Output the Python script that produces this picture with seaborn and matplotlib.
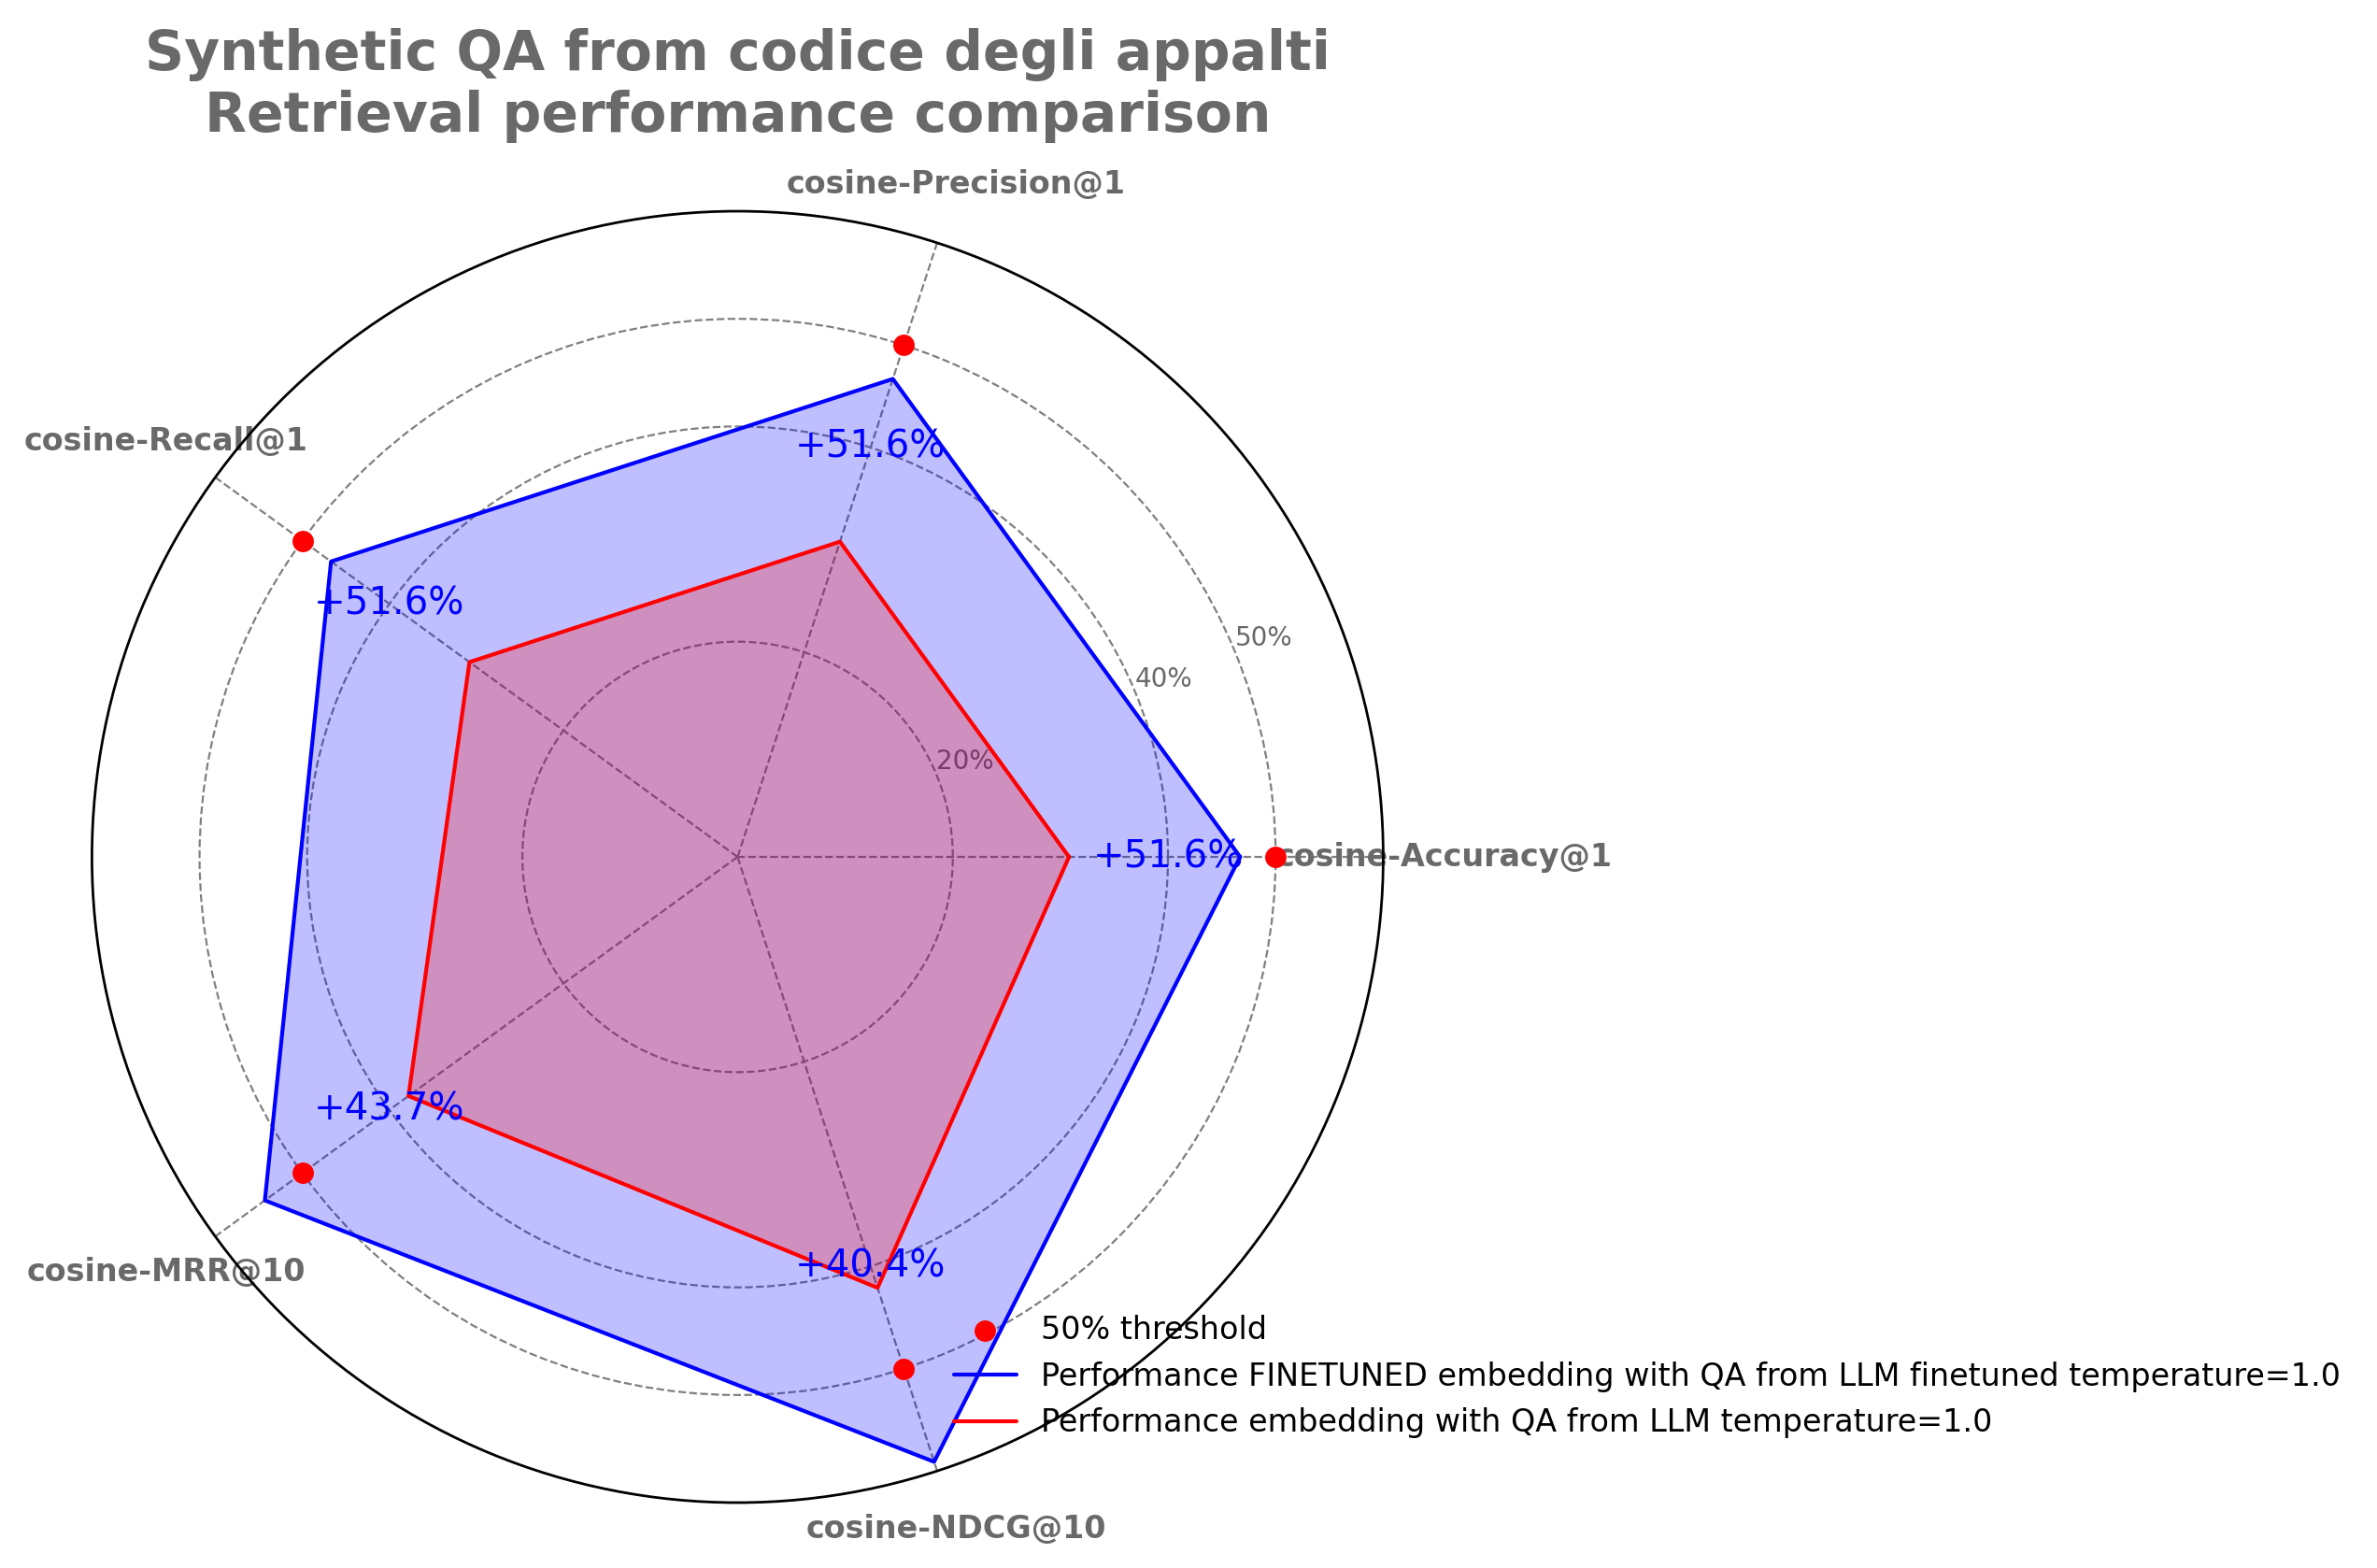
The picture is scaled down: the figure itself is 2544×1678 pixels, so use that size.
import numpy as np
import pandas as pd
import seaborn as sns
import matplotlib
matplotlib.use('Agg')
import matplotlib.pyplot as plt

# Metrics shown on the radar axes
metrics = ['cosine-Accuracy@1', 'cosine-Precision@1', 'cosine-Recall@1',
           'cosine-MRR@10', 'cosine-NDCG@10']

# Scores
finetuned_scores = [0.467, 0.467, 0.467, 0.543, 0.591]
base_scores = [0.308, 0.308, 0.308, 0.378, 0.421]
threshold = [0.5, 0.5, 0.5, 0.5, 0.5]

r_ticks = [0.2, 0.4, 0.5]
r_tick_labels = ['20%', '40%', '50%']

title = 'Synthetic QA from codice degli appalti\nRetrieval performance comparison'
label_finetuned = 'Performance FINETUNED embedding with QA from LLM finetuned temperature=1.0'
label_base = 'Performance embedding with QA from LLM temperature=1.0'
label_threshold = '50% threshold'

sns.set_style('white')
plt.rcParams['font.family'] = ['DejaVu Sans']

gray = 'dimgray'

angles = np.linspace(0, 2 * np.pi, len(metrics), endpoint=False)
df = pd.DataFrame({'metric': metrics, 'angle': angles,
                   'finetuned': finetuned_scores, 'base': base_scores,
                   'threshold': threshold})
# close the polygons
df_closed = pd.concat([df, df.iloc[[0]]], ignore_index=True)
df_closed.loc[len(df_closed) - 1, 'angle'] = 2 * np.pi

fig = plt.figure(figsize=(12.72, 8.39), dpi=200)
ax = fig.add_axes([0.0385, 0.0417, 0.5436, 0.8236], projection='polar')
ax.set_axisbelow(True)

# finetuned model (blue)
ax.fill(df_closed['angle'], df_closed['finetuned'], color='blue', alpha=0.25, lw=0)
sns.lineplot(data=df_closed, x='angle', y='finetuned', sort=False, color='blue',
             lw=1.5, label=label_finetuned, ax=ax)

# base model (red)
ax.fill(df_closed['angle'], df_closed['base'], color='red', alpha=0.25, lw=0)
sns.lineplot(data=df_closed, x='angle', y='base', sort=False, color='red',
             lw=1.5, label=label_base, ax=ax)

# threshold dots
sns.scatterplot(data=df, x='angle', y='threshold', color='red', s=68, linewidth=0,
                label=label_threshold, ax=ax, zorder=3)

# improvement labels
for a, f, b in zip(angles, finetuned_scores, base_scores):
    ax.text(a, 0.4, '+{:.1f}%'.format((f / b - 1) * 100), color='blue',
            fontsize=14.5, ha='center', va='center')

ax.set_ylim(0, 0.6)
ax.set_xticks(angles)
ax.set_xticklabels(metrics, fontsize=12, fontweight='bold', color=gray)
ax.tick_params(axis='x', pad=13)
ax.set_yticks(r_ticks)
ax.set_yticklabels(r_tick_labels, fontsize=10, color=gray)
ax.set_xlabel('')
ax.set_ylabel('')
ax.grid(True, linestyle='--', color='gray', linewidth=0.8)
ax.spines['polar'].set_color('black')
ax.spines['polar'].set_linewidth(1.0)

ax.set_title(title, fontsize=21, fontweight='bold', color=gray, y=1.0615, pad=0)

handles, labels = ax.get_legend_handles_labels()
order = [labels.index(label_threshold), labels.index(label_finetuned), labels.index(label_base)]
ax.legend([handles[i] for i in order], [labels[i] for i in order],
          loc='upper left', bbox_to_anchor=(0.3896, 0.1793),
          bbox_transform=fig.transFigure, frameon=False, fontsize=12,
          labelcolor='black')

fig.savefig('out.png', dpi=200)
